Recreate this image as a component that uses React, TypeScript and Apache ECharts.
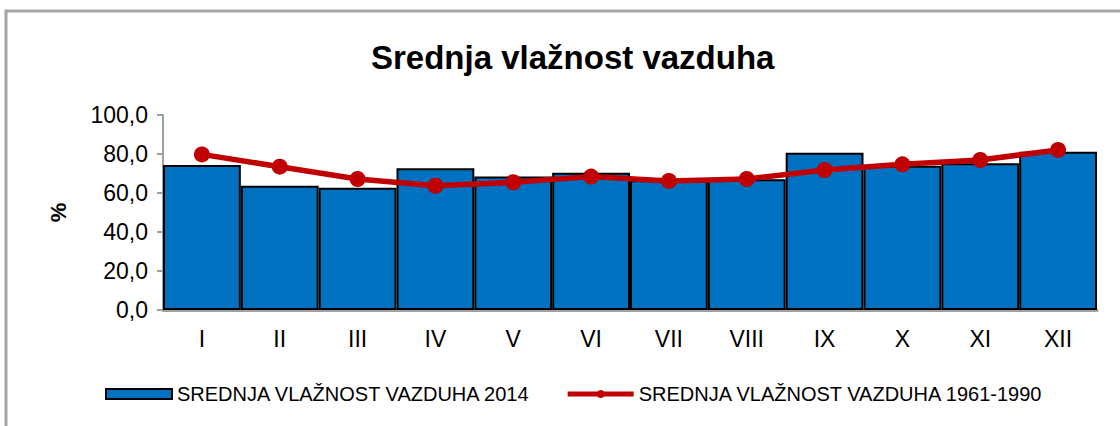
import React, { useEffect, useRef } from "react";
import * as echarts from "echarts";

const months = ["I", "II", "III", "IV", "V", "VI", "VII", "VIII", "IX", "X", "XI", "XII"];
const humidity2014 = [74.4, 63.7, 62.7, 72.7, 68.4, 70.4, 66.5, 67.0, 80.7, 74.0, 75.2, 81.2];
const humidity1961_1990 = [79.8, 73.5, 67.2, 63.7, 65.5, 68.4, 66.2, 67.2, 71.8, 74.7, 76.9, 82.1];
const yTicks = [0, 20, 40, 60, 80, 100];

const FONT = "'Liberation Sans', Arial, sans-serif";

export default function App() {
  const ref = useRef<HTMLDivElement>(null);
  useEffect(() => {
    if (!ref.current) return;
    const chart = echarts.init(ref.current, null, { renderer: "svg" });
    chart.setOption({
      animation: false,
      backgroundColor: "#ffffff",
      textStyle: { fontFamily: FONT },
      title: {
        text: "Srednja vlažnost vazduha",
        left: 366,
        top: 36,
        textStyle: { fontSize: 33, fontWeight: "bold", color: "#000", fontFamily: FONT },
      },
      graphic: [
        {
          type: "rect",
          shape: { x: 6, y: 11, width: 1200, height: 500 },
          style: { fill: "none", stroke: "#a6a6a6", lineWidth: 3 },
          silent: true,
        },
      ],
      legend: {
        left: 105,
        top: 384,
        padding: 0,
        itemWidth: 66,
        itemHeight: 10,
        itemGap: 34,
        textStyle: { fontSize: 20, color: "#000", fontFamily: FONT },
        data: [
          { name: "SREDNJA VLAŽNOST VAZDUHA 2014", icon: "rect" },
          { name: "SREDNJA VLAŽNOST VAZDUHA 1961-1990", lineStyle: { width: 5 } },
        ],
      },
      grid: { left: 163, right: 23, top: 115, bottom: 116 },
      xAxis: {
        type: "category",
        data: months,
        axisLine: { lineStyle: { color: "#a0a0a0", width: 3 } },
        axisTick: { show: false },
        axisLabel: { fontSize: 23, color: "#000", margin: 17, fontFamily: FONT },
      },
      yAxis: {
        type: "value",
        min: yTicks[0],
        max: yTicks[yTicks.length - 1],
        interval: yTicks[1] - yTicks[0],
        name: "%",
        nameLocation: "middle",
        nameGap: 94,
        nameRotate: 90,
        nameTextStyle: { fontSize: 22, fontWeight: "bold", color: "#000", fontFamily: FONT },
        axisLine: { show: true, lineStyle: { color: "#a0a0a0", width: 2 } },
        axisTick: { show: true, length: 6, lineStyle: { color: "#a0a0a0", width: 2 } },
        splitLine: { show: false },
        axisLabel: {
          fontSize: 23,
          color: "#000",
          margin: 15,
          fontFamily: FONT,
          formatter: (v: number) => v.toFixed(1).replace(".", ","),
        },
      },
      series: [
        {
          name: "SREDNJA VLAŽNOST VAZDUHA 2014",
          type: "bar",
          data: humidity2014,
          barCategoryGap: "0%",
          itemStyle: { color: "#0070C0", borderColor: "#000", borderWidth: 2 },
        },
        {
          name: "SREDNJA VLAŽNOST VAZDUHA 1961-1990",
          type: "line",
          data: humidity1961_1990,
          symbol: "circle",
          symbolSize: 16,
          lineStyle: { color: "#C00000", width: 5.5 },
          itemStyle: { color: "#C00000" },
        },
      ],
    });
    return () => chart.dispose();
  }, []);
  return (
    <div
      ref={ref}
      style={{ position: "absolute", left: 0, top: 0, width: 1120, height: 426 }}
    />
  );
}
